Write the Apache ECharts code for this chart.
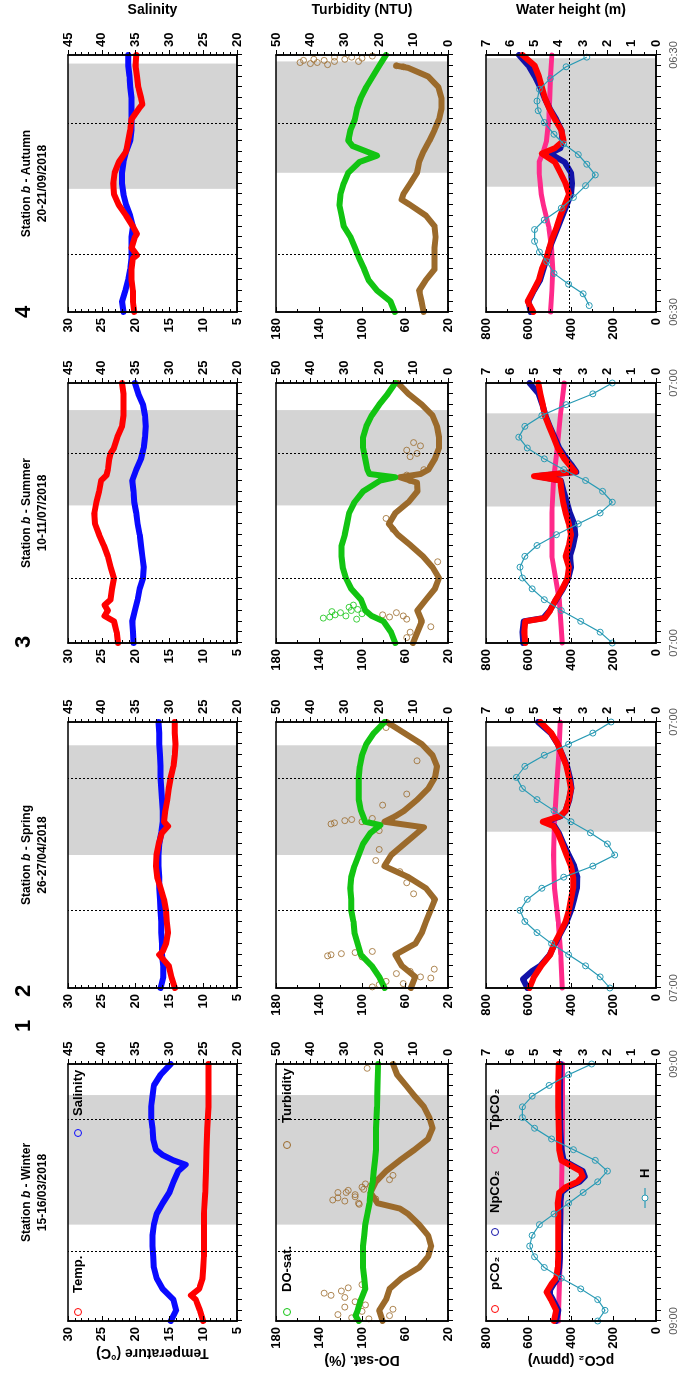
<!DOCTYPE html>
<html>
<head>
<meta charset="utf-8">
<script src="https://cdn.jsdelivr.net/npm/echarts@6/dist/echarts.min.js"></script>
<style>
html, body { margin: 0; padding: 0; background: #fff; overflow: hidden; }
#wrap { position: relative; width: 684px; height: 1381px; overflow: hidden; }
/* the figure is drawn in landscape and turned a quarter turn to the left */
#chart { position: absolute; left: 0; top: 0; width: 1381px; height: 684px;
         transform-origin: 0 0; transform: translate(0, 1381px) rotate(-90deg); }
</style>
</head>
<body>
<div id="wrap"><div id="chart"></div></div>
<script>
// ---- station headers ----
var stationNames = ['Winter', 'Spring', 'Summer', 'Autumn'];
var stationDates = ['15-16/03/2018', '26-27/04/2018', '10-11/07/2018', '20-21/09/2018'];
var stationNums = ['1', '2', '3', '4'];
var timeLabels = [['09:00', '09:00'], ['07:00', '07:00'], ['07:00', '07:00'], ['06:30', '06:30']];

// night period (grey) per station and row, in hours after start
var night = [
  [[9.0, 21.1], [9.0, 21.1], [9.0, 21.1]],
  [[12.0, 21.9], [12.0, 21.9], [14.1, 21.8]],
  [[12.7, 21.5], [12.7, 21.5], [12.6, 21.2]],
  [[11.5, 23.2], [13.0, 23.4], [11.7, 23.7]]
];
// dotted vertical lines (hours after start)
var highTide = [[6.5, 18.75], [6.95, 18.9], [5.9, 17.45], [5.3, 17.6]];
var atmCO2 = 410;

// ---- station 1 (winter) ----
var s1Temp = [[0,10.0],[1,10.5],[2,11.1],[2.4,11.8],[3,10.6],[4,10.1],[5,10.0],[6,9.9],[8,9.9],[10,9.9],[12,9.7],[14,9.6],[16,9.5],[18,9.4],[20,9.2],[22,9.2],[24,9.2]];
var s1Sal = [[0,29.8],[1,29.0],[2,29.4],[3,31.0],[4,31.9],[5,32.3],[6,32.4],[7,32.5],[8,32.5],[9,32.3],[10,31.9],[11,31.0],[12,30.0],[13,29.4],[14,28.7],[14.6,27.6],[15,29.4],[15.5,31.0],[16,32.0],[17,32.4],[18,32.5],[19,32.7],[20,32.7],[21,32.5],[22,32.3],[23,31.3],[24,29.8]];
var s1DO = [[0,103],[0.5,106],[1,104],[2,101],[3,97],[4,98],[5,99],[6,99],[7,99],[8,98],[9,97],[10,95],[11,93],[12,92],[13,90],[14,89],[15,88],[16,87],[18,87],[20,86],[22,85.5],[24,85]];
var s1Turb = [[0,19],[1,20],[2,18],[3,17],[4,13.5],[5,8.4],[6,5.8],[7,4.9],[8,5.8],[9,8.4],[10,11.6],[10.5,14],[11,20.5],[12,22.5],[13,21],[14,18],[15,14],[16,9.7],[17,5.8],[18,4.5],[19,5.4],[20,7],[21,9.7],[22,12.2],[23,14.8],[24,16]];
var s1TurbOut = [[0.2,23],[0.3,28],[0.6,32],[0.9,25],[1.3,30],[1.5,24],[1.8,27],[2.2,30],[2.4,34],[2.6,36],[2.8,31],[3.1,29],[3.4,25],[0.5,17],[1.1,16],
  [10.9,25.8],[11.0,26],[11.2,30],[11.3,33.5],[11.4,21],[11.5,32],[11.6,27],[11.8,27],[12.0,29.6],[12.0,32],[12.2,29],[12.3,24.5],[12.5,25],[12.6,22.5],[12.8,24],[13.2,17],[13.6,16],[23.6,23.5]];
var s1PCO2 = [[0,480],[1,470],[2,495],[2.7,515],[3.5,490],[4,470],[5,462],[6,460],[8,460],[10,460],[11,462],[12,455],[12.5,425],[13,370],[13.5,345],[14,355],[14.5,400],[15,445],[16,455],[18,458],[20,460],[22,460],[24,458]];
var s1NpCO2 = [[0,470],[1,460],[2,485],[2.7,505],[3.5,480],[4,462],[5,455],[6,452],[8,452],[10,450],[11,452],[12,445],[12.5,415],[13,360],[13.5,335],[14,345],[14.5,390],[15,435],[16,445],[18,450],[20,452],[22,452],[24,450]];
var s1TpCO2 = [[0,460],[3,455],[6,450],[9,448],[12,445],[15,442],[18,440],[21,440],[24,440]];
var s1H = [[0,2.4],[1,2.1],[2,2.4],[3,3.1],[4,3.9],[5,4.6],[6,5.0],[7,5.2],[8,5.1],[9,4.8],[10,4.2],[11,3.6],[12,3.0],[13,2.4],[14,2.0],[15,2.5],[16,3.4],[17,4.3],[18,5.0],[19,5.5],[20,5.5],[21,5.1],[22,4.4],[23,3.6],[24,2.65]];

// ---- station 2 (spring) ----
var s2Temp = [[0,14.2],[1,14.7],[2,15.1],[3,16.5],[3.3,16.0],[4,15.5],[5,15.2],[6,15.4],[7,15.5],[8,15.8],[9,16.3],[10,16.8],[11,17.0],[12,16.9],[13,16.6],[14,16.1],[14.6,15.2],[15,15.8],[16,15.6],[17,15.3],[18,15.1],[19,14.8],[20,14.4],[21,14.2],[22,14.1],[23,14.2],[24,14.2]];
var s2Sal = [[0,31.3],[1,30.9],[2,30.9],[3,31.1],[4,31.1],[5,31.2],[6,31.2],[7,31.3],[8,31.4],[9,31.5],[10,31.5],[11,31.6],[12,31.6],[13,31.5],[14,31.2],[15,31.0],[16,31.0],[17,31.1],[18,31.2],[19,31.3],[20,31.3],[21,31.4],[22,31.5],[23,31.5],[24,31.6]];
var s2DO = [[0,79],[1,84],[2,91],[3,101],[4,104],[5,107],[6,108],[7,110],[8,110],[9,111],[10,110],[11,107],[12,103],[13,99],[14,92],[14.7,83],[15,97],[16,101],[17,103],[18,103],[19,103],[20,102],[21,100],[22,96],[23,89],[24,79]];
var s2Turb = [[0,10.8],[1,9.5],[2,13.4],[3,15.3],[4,9.5],[5,7.6],[6,6.4],[7,5.1],[8,3.8],[9,6.4],[10,11.5],[11,18.5],[12,16.5],[13,12.7],[14,8.9],[14.5,7.0],[15,18.5],[15.5,15.3],[16,12.7],[17,8.9],[18,5.7],[19,3.8],[20,3.2],[21,4.5],[22,7.6],[23,12.7],[24,17.8]];
var s2TurbOut = [[0.1,22],[0.3,20],[0.6,18],[0.9,5],[1.3,15],[1.7,4],[0.4,13],[1.0,8],[1.5,11],[2.8,25],[2.9,35],[3.0,34],[3.1,31],[3.2,27],[3.3,22],[8.5,10],[9.5,12],[10.5,14],[11.5,21],[12.5,20],[14.2,20],[14.8,34],[14.9,33],[15.0,25],[15.1,30],[15.2,28],[15.3,22],[16.5,19],[17.5,12],[20.5,9],[23.5,18]];
var s2PCO2 = [[0,595],[1,574],[2,540],[3,498],[4,478],[5,451],[6,425],[7,410],[8,400],[9,390],[10,390],[11,400],[12,421],[13,441],[14,462],[14.6,482],[15,533],[15.5,451],[16,425],[17,410],[18,400],[19,410],[20,421],[21,441],[22,462],[23,492],[24,544]];
var s2NpCO2 = [[0,605],[0.8,626],[1.5,585],[2,545],[3,500],[4,475],[5,448],[6,420],[7,400],[8,385],[9,372],[10,370],[11,385],[12,410],[13,435],[14,458],[14.6,478],[15,520],[15.5,448],[16,425],[17,408],[18,398],[19,405],[20,418],[21,440],[22,462],[23,495],[24,555]];
var s2TpCO2 = [[0,441],[3,448],[6,460],[9,478],[12,482],[15,478],[18,468],[21,458],[24,451]];
var s2H = [[0,1.9],[1,2.3],[2,2.9],[3,3.6],[4,4.3],[5,4.9],[6,5.4],[7,5.6],[8,5.3],[9,4.7],[10,3.8],[11,2.6],[12,1.7],[13,2.0],[14,2.7],[15,3.5],[16,4.2],[17,4.9],[18,5.5],[19,5.75],[20,5.4],[21,4.6],[22,3.6],[23,2.6],[24,1.85]];

// ---- station 3 (summer) ----
var s3Temp = [[0,22.6],[1,22.8],[2,23.2],[2.5,24.6],[3,24.1],[3.5,24.6],[4,23.7],[5,23.5],[6,23.2],[7,23.7],[8,24.1],[9,24.7],[10,25.4],[11,26.0],[12,26.1],[13,25.8],[14,25.4],[15,25.1],[15.5,24.3],[16,24.1],[17,23.9],[17.5,23.7],[18,23.2],[19,22.7],[20,22.0],[21,21.8],[22,21.8],[23,21.8],[24,22.0]];
var s3Sal = [[0,35.3],[1,35.4],[2,35.5],[3,35.1],[4,34.7],[5,34.4],[6,33.9],[7,33.8],[8,34.0],[9,34.2],[10,34.4],[11,34.7],[12,34.9],[13,35.2],[14,35.3],[15,35.5],[16,34.9],[17,34.2],[18,33.8],[19,33.6],[20,33.5],[21,33.6],[22,33.9],[23,34.6],[24,35.1]];
var s3DO = [[0,69],[1,73],[2,80],[2.5,91],[3,97],[4,101],[5,110],[6,115],[7,118],[8,119],[9,119],[10,116],[11,114],[12,112],[13,107],[14,99],[15,83],[15.3,69],[15.6,93],[16,95],[17,97],[18,99],[19,99],[20,96],[21,91],[22,84],[23,76],[24,69]];
var s3DOOut = [[2.2,105],[2.3,136],[2.4,130],[2.5,115],[2.6,125],[2.7,100],[2.8,120],[3.0,110],[3.3,112],[3.5,108],[2.9,128],[3.1,104]];
var s3Turb = [[0,10.2],[1,8.9],[2,7.6],[3,8.9],[4,6.4],[5,3.8],[6,2.6],[7,4.5],[8,7.3],[9,10.8],[10,14.6],[11,17.2],[12,15.3],[13,11.5],[14,8.9],[14.8,9],[15.3,14],[15.6,8],[16,5.7],[17,3.8],[18,2.6],[19,2.6],[20,3.2],[21,4.5],[22,7.6],[23,11.5],[24,14.6]];
var s3TurbOut = [[0.5,12],[1.0,11],[1.5,5],[2.2,12],[2.4,17],[2.5,13],[2.6,19],[2.8,15],[7.5,3],[10.5,16],[11.5,18],[15.0,11],[15.5,12],[16.0,7],[17.2,11],[17.5,9],[17.8,12],[18.2,8],[18.5,10]];
var s3PCO2 = [[0,615],[1,620],[2,615],[2.3,523],[3,498],[4,472],[5,441],[6,416],[7,410],[8,425],[9,410],[10,400],[11,410],[12,425],[13,437],[14,445],[15,451],[15.4,574],[15.8,380],[16.5,410],[17,431],[18,462],[19,482],[20,503],[21,523],[22,533],[23,544],[24,554]];
var s3NpCO2 = [[0,625],[1,628],[2,622],[2.3,530],[3,500],[4,470],[5,438],[6,412],[7,400],[8,405],[9,390],[10,380],[11,385],[12,405],[13,420],[14,435],[15,448],[15.4,560],[15.8,375],[16.5,400],[17,420],[18,455],[19,478],[20,500],[21,520],[22,535],[23,552],[24,595]];
var s3TpCO2 = [[0,441],[4,455],[8,490],[12,490],[15,482],[18,465],[21,450],[24,432]];
var s3H = [[0,1.8],[1,2.3],[2,3.1],[3,3.9],[4,4.6],[5,5.1],[6,5.5],[7,5.6],[8,5.4],[9,4.9],[10,4.1],[11,3.2],[12,2.3],[13,1.8],[14,2.2],[15,2.9],[16,3.8],[17,4.6],[18,5.3],[19,5.65],[20,5.4],[21,4.7],[22,3.7],[23,2.6],[24,1.8]];

// ---- station 4 (autumn) ----
var s4Temp = [[0,20.2],[1,20.4],[2,20.4],[3,20.6],[4,20.6],[5,20.4],[5.3,19.8],[6,20.6],[7,20.1],[7.3,19.8],[8,20.4],[9,21.4],[10,22.5],[11,23.2],[12,23.3],[13,23.1],[14,22.5],[15,21.4],[16,21.1],[17,20.8],[18,20.6],[19,19.5],[19.4,19.0],[20,19.2],[21,19.6],[22,19.8],[23,20.0],[24,19.9]];
var s4Sal = [[0,36.8],[1,37.0],[2,36.5],[3,36.1],[4,35.8],[5,35.6],[6,35.6],[7,35.6],[8,35.4],[9,35.8],[10,36.4],[11,36.8],[12,37.0],[13,37.0],[14,36.8],[15,36.4],[16,35.8],[17,35.6],[18,35.6],[19,35.6],[20,35.6],[21,35.8],[22,35.9],[23,36.1],[24,36.1]];
var s4DO = [[0,69.5],[1,73.6],[2,86],[3,94],[4,98],[5,102.5],[6,106.6],[7,110.7],[8,117],[9,119],[10,121],[11,120],[12,117],[13,112.8],[14,102.5],[14.6,86],[15.5,108.7],[16,112.8],[17,110.7],[18,106.6],[19,104.5],[20,101],[21,96],[22,90],[23,84],[24,77.7]];
var s4Turb = [[0,7.1],[1,7.7],[2,8.4],[3,6.4],[4,3.9],[5,3.9],[6,3.9],[7,3.6],[8,3.9],[9,6.4],[10,11],[10.5,13.5],[11,13],[12,11],[13,9],[14,8.4],[15,7.1],[16,5.4],[17,3.9],[18,2.6],[19,1.9],[20,1.9],[21,2.8],[22,5.8],[22.8,11.6],[23,15]];
var s4TurbOut = [[22.9,13],[23.0,15],[23.1,35],[23.2,40],[23.3,38],[23.3,43],[23.4,33],[23.4,26],[23.5,36],[23.5,42],[23.6,30],[23.6,39],[23.7,25],[23.8,28],[23.8,33],[23.9,22]];
var s4PCO2 = [[0,577],[1,604],[2,577],[3,551],[4,537],[5,516],[6,502],[7,486],[8,466],[9,450],[10,429],[11,409],[12,425],[13,450],[14,476],[14.8,537],[15.3,476],[16,435],[17,446],[18,476],[19,502],[20,523],[21,537],[22,551],[23,571],[24,628]];
var s4NpCO2 = [[0,590],[1,600],[2,575],[3,545],[4,530],[5,515],[6,500],[7,480],[8,460],[9,440],[10,420],[11,400],[12,395],[13,400],[14,430],[14.8,500],[15.3,450],[16,440],[17,445],[18,470],[19,500],[20,525],[21,545],[22,570],[23,600],[24,645]];
var s4TpCO2 = [[0,496],[2,490],[4,486],[6,492],[8,505],[10,530],[11,540],[12,545],[13,550],[14,550],[15,530],[16,515],[18,505],[20,500],[22,496],[24,490]];
var s4H = [[0.6,2.75],[1.7,3.0],[2.6,3.6],[3.6,4.2],[4.7,4.5],[5.6,4.8],[6.6,5.0],[7.7,5.0],[8.6,4.6],[9.7,3.9],[10.7,3.4],[11.8,2.9],[12.8,2.5],[13.8,2.85],[14.7,3.2],[15.7,3.8],[16.6,4.2],[17.7,4.6],[18.8,4.85],[19.7,4.9],[20.8,4.8],[21.8,4.35],[22.9,3.7],[23.8,2.85]];

var temp = [s1Temp, s2Temp, s3Temp, s4Temp];
var sal = [s1Sal, s2Sal, s3Sal, s4Sal];
var dosat = [s1DO, s2DO, s3DO, s4DO];
var dosatOut = [[], [], s3DOOut, []];
var turb = [s1Turb, s2Turb, s3Turb, s4Turb];
var turbOut = [s1TurbOut, s2TurbOut, s3TurbOut, s4TurbOut];
var pco2 = [s1PCO2, s2PCO2, s3PCO2, s4PCO2];
var npco2 = [s1NpCO2, s2NpCO2, s3NpCO2, s4NpCO2];
var tpco2 = [s1TpCO2, s2TpCO2, s3TpCO2, s4TpCO2];
var height = [s1H, s2H, s3H, s4H];

// ---- layout (landscape coordinates, before the turn) ----
var colLeft = [60, 393, 738, 1069];
var colWidth = [257, 266, 260, 257];
var rowTop = [68, 276, 486];
var rowHeight = [169, 172, 170];

var leftAxes = [
  {min: 5, max: 30, interval: 5, minor: 5, name: 'Temperature (°C)'},
  {min: 20, max: 180, interval: 40, minor: 2, name: 'DO-sat. (%)'},
  {min: 0, max: 800, interval: 200, minor: 2, name: 'pCO₂ (ppmv)'}
];
var rightAxes = [
  {min: 20, max: 45, interval: 5, minor: 5, name: 'Salinity'},
  {min: 0, max: 50, interval: 10, minor: 5, name: 'Turbidity (NTU)'},
  {min: 0, max: 7, interval: 1, minor: 2, name: 'Water height (m)'}
];

var FONT = '"Liberation Sans", Arial, sans-serif';
var RED = '#ff0000', BLUE = '#0a0aff', NAVY = '#1212a8', GREEN = '#12c412',
    BROWN = '#9b6a2b', PINK = '#ff2a8a', TEAL = '#2a9bb5', GREY = '#d4d4d4';

function lineSeries(g, yIdx, data, color, width, z) {
  return {type: 'line', xAxisIndex: g, yAxisIndex: yIdx, data: data, symbol: 'none',
    showSymbol: false, silent: true, z: z,
    lineStyle: {color: color, width: width, cap: 'round', join: 'round'}, itemStyle: {color: color}};
}
function circleSeries(g, yIdx, data, color, size, z) {
  return {type: 'scatter', xAxisIndex: g, yAxisIndex: yIdx, data: data, symbol: 'circle',
    symbolSize: size, silent: true, z: z,
    itemStyle: {color: 'rgba(0,0,0,0)', borderColor: color, borderWidth: 1}};
}

var grids = [], xAxes = [], yAxes = [], series = [];

for (var s = 0; s < 4; s++) {
  for (var r = 0; r < 3; r++) {
    var g = s * 3 + r;
    grids.push({left: colLeft[s], top: rowTop[r], width: colWidth[s], height: rowHeight[r],
      show: true, borderColor: '#000', borderWidth: 1.5, backgroundColor: 'rgba(0,0,0,0)', z: 10});

    xAxes.push({gridIndex: g, type: 'value', min: 0, max: 24, interval: 1, z: 10,
      axisLine: {show: true, onZero: false, lineStyle: {color: '#000', width: 1.5}},
      axisTick: {show: true, length: 5, lineStyle: {color: '#000', width: 1}},
      axisLabel: {show: r === 2, margin: 12, fontFamily: FONT, fontSize: 11, color: '#555',
        formatter: (function (tl) { return function (v) { return v === 0 ? tl[0] : (v === 24 ? tl[1] : ''); }; })(timeLabels[s])},
      splitLine: {show: false}});

    var la = leftAxes[r], ra = rightAxes[r];
    yAxes.push({gridIndex: g, type: 'value', position: 'left', min: la.min, max: la.max, interval: la.interval, z: 10,
      name: s === 0 ? la.name : '', nameLocation: 'middle', nameGap: 24, nameRotate: 90,
      nameTextStyle: {fontFamily: FONT, fontWeight: 'bold', fontSize: 14, color: '#000'},
      axisLine: {show: true, onZero: false, lineStyle: {color: '#000', width: 1.5}},
      axisTick: {show: true, inside: true, length: 5, lineStyle: {color: '#000'}},
      minorTick: {show: true, splitNumber: la.minor, length: 3, lineStyle: {color: '#000'}},
      axisLabel: {margin: 6, fontFamily: FONT, fontWeight: 'bold', fontSize: 13, color: '#000'},
      splitLine: {show: false}});
    yAxes.push({gridIndex: g, type: 'value', position: 'right', min: ra.min, max: ra.max, interval: ra.interval, z: 10,
      name: s === 3 ? ra.name : '', nameLocation: 'middle', nameGap: 38, nameRotate: -90,
      nameTextStyle: {fontFamily: FONT, fontWeight: 'bold', fontSize: 14, color: '#000'},
      axisLine: {show: true, onZero: false, lineStyle: {color: '#000', width: 1.5}},
      axisTick: {show: true, inside: false, length: 5, lineStyle: {color: '#000'}},
      minorTick: {show: true, splitNumber: ra.minor, length: 3, lineStyle: {color: '#000'}},
      axisLabel: {margin: 8, fontFamily: FONT, fontWeight: 'bold', fontSize: 13, color: '#000'},
      splitLine: {show: false}});

    // grey night band, dotted tide lines (and atmospheric pCO2 on the bottom row)
    var marks = [{xAxis: highTide[s][0]}, {xAxis: highTide[s][1]}];
    if (r === 2) marks.push({yAxis: atmCO2});
    series.push({type: 'line', xAxisIndex: g, yAxisIndex: 2 * g, data: [], silent: true, z: 1,
      markArea: {silent: true, itemStyle: {color: GREY},
        data: [[{xAxis: night[s][r][0]}, {xAxis: night[s][r][1]}]]},
      markLine: {silent: true, symbol: ['none', 'none'], label: {show: false},
        lineStyle: {color: '#000', type: [2, 2], width: 1}, data: marks}});

    if (r === 0) {
      series.push(lineSeries(g, 2 * g + 1, sal[s], BLUE, 6, 3));
      series.push(lineSeries(g, 2 * g, temp[s], RED, 6, 4));
    } else if (r === 1) {
      series.push(lineSeries(g, 2 * g + 1, turb[s], BROWN, 6, 3));
      series.push(circleSeries(g, 2 * g + 1, turbOut[s], BROWN, 6, 3));
      series.push(lineSeries(g, 2 * g, dosat[s], GREEN, 6, 4));
      series.push(circleSeries(g, 2 * g, dosatOut[s], GREEN, 6, 4));
    } else {
      series.push(lineSeries(g, 2 * g, tpco2[s], PINK, 5, 3));
      series.push(lineSeries(g, 2 * g, npco2[s], NAVY, 6, 3));
      series.push(lineSeries(g, 2 * g, pco2[s], RED, 6, 4));
      series.push({type: 'line', xAxisIndex: g, yAxisIndex: 2 * g + 1, data: height[s], silent: true, z: 5,
        symbol: 'circle', symbolSize: 6, showSymbol: true,
        lineStyle: {color: TEAL, width: 1.2},
        itemStyle: {color: 'rgba(0,0,0,0)', borderColor: TEAL, borderWidth: 1}});
    }
  }
}

// ---- titles, numbers and the legend of station 1 ----
var graphics = [];
for (var k = 0; k < 4; k++) {
  var cx = colLeft[k] + colWidth[k] / 2;
  graphics.push({type: 'text', x: cx, y: 27, z: 20, style: {
    text: 'Station {i|b} - ' + stationNames[k], font: 'bold 12px ' + FONT, fill: '#000',
    align: 'center', verticalAlign: 'middle', textAlign: 'center', textVerticalAlign: 'middle',
    rich: {i: {fontStyle: 'italic', fontWeight: 'bold', fontSize: 12, fontFamily: FONT}}}});
  graphics.push({type: 'text', x: cx, y: 43, z: 20, style: {
    text: stationDates[k], font: 'bold 12px ' + FONT, fill: '#000',
    align: 'center', verticalAlign: 'middle', textAlign: 'center', textVerticalAlign: 'middle'}});
}
var numX = [355, 390, 739, 1069];
for (var n = 0; n < 4; n++) {
  graphics.push({type: 'text', x: numX[n], y: 24, z: 20, style: {
    text: stationNums[n], font: 'bold 22px ' + FONT, fill: '#000',
    align: 'center', verticalAlign: 'middle', textAlign: 'center', textVerticalAlign: 'middle'}});
}

function legendItem(x, y, color, text, tx) {
  graphics.push({type: 'circle', z: 20, shape: {cx: x, cy: y, r: 3.5}, style: {fill: 'none', stroke: color, lineWidth: 1}});
  graphics.push({type: 'text', x: tx, y: y, z: 20, style: {text: text, font: 'bold 13px ' + FONT, fill: '#000',
    align: 'left', verticalAlign: 'middle', textAlign: 'left', textVerticalAlign: 'middle'}});
}
legendItem(69, 78, RED, 'Temp.', 88);
legendItem(248, 78, BLUE, 'Salinity', 265);
legendItem(69, 287, GREEN, 'DO-sat.', 89);
legendItem(236, 287, BROWN, 'Turbidity', 258);
legendItem(72, 495, RED, 'pCO₂', 91);
legendItem(149, 495, NAVY, 'NpCO₂', 168);
legendItem(231, 495, PINK, 'TpCO₂', 251);
graphics.push({type: 'line', z: 20, shape: {x1: 173, y1: 645, x2: 193, y2: 645}, style: {stroke: TEAL, lineWidth: 1.2}});
graphics.push({type: 'circle', z: 20, shape: {cx: 183, cy: 645, r: 3}, style: {fill: '#fff', stroke: TEAL, lineWidth: 1}});
graphics.push({type: 'text', x: 203, y: 645, z: 20, style: {text: 'H', font: 'bold 13px ' + FONT, fill: '#000',
  align: 'left', verticalAlign: 'middle', textAlign: 'left', textVerticalAlign: 'middle'}});

var chart = echarts.init(document.getElementById('chart'), null, {renderer: 'canvas', devicePixelRatio: 1});
chart.setOption({
  animation: false,
  backgroundColor: '#fff',
  grid: grids,
  xAxis: xAxes,
  yAxis: yAxes,
  series: series,
  graphic: graphics
});
</script>
</body>
</html>
